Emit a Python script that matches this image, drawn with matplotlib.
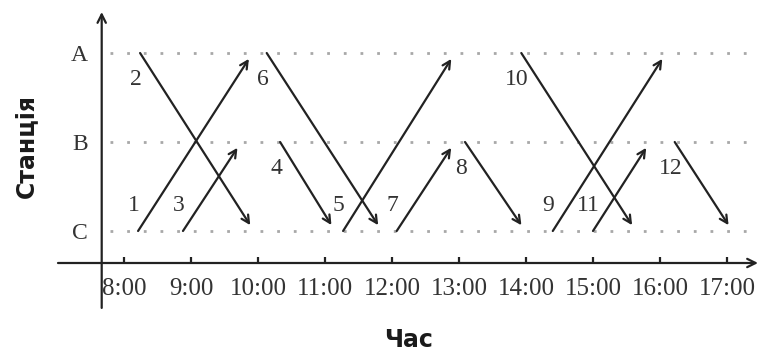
import matplotlib
matplotlib.use("Agg")
import matplotlib.pyplot as plt

# Stations on the vertical axis (bottom to top)
stations = ["C", "B", "A"]
station_level = {name: i for i, name in enumerate(stations)}

# Hour ticks on the time axis
hours = [8, 9, 10, 11, 12, 13, 14, 15, 16, 17]
hour_labels = ["8:00", "9:00", "10:00", "11:00", "12:00", "13:00",
               "14:00", "15:00", "16:00", "17:00"]

# Train schedule: number, origin, destination, departure and arrival (decimal hours)
train_ids = ["1", "2", "3", "4", "5", "6", "7", "8", "9", "10", "11", "12"]
origin = ["C", "A", "C", "B", "C", "A", "C", "B", "C", "A", "C", "B"]
destination = ["A", "C", "B", "C", "A", "C", "B", "C", "A", "C", "B", "C"]
depart = [8.21, 8.24, 8.88, 10.33, 11.27, 10.13, 12.07, 13.09, 14.40, 13.93, 15.00, 16.22]
arrive = [9.92, 9.94, 9.75, 11.15, 12.94, 11.85, 12.94, 13.99, 16.09, 15.64, 15.85, 17.08]

W, H = 760, 358
fig = plt.figure(figsize=(W / 100, H / 100), dpi=100)
ax = fig.add_axes([101.7 / W, (H - 263) / H, (758 - 101.7) / W, (263 - 12) / H])
ax.set_xlim(7.667, 17.463)
ax.set_ylim(-0.3596, 2.461)

for sp in ax.spines.values():
    sp.set_visible(False)

line_color = "#222222"
text_color = "#333333"
serif = "Liberation Serif"

# Dotted station levels
for s in stations:
    ax.axhline(station_level[s], xmin=0.013, xmax=0.99, color="#a8a8a8",
               lw=2.0, linestyle=(0, (1, 5)), zorder=1)

# Coordinate axes with arrowheads
ax.annotate("", xy=(1.0, 0.0), xytext=(-0.0666, 0.0),
            xycoords="axes fraction", textcoords="axes fraction",
            arrowprops=dict(arrowstyle="->,head_length=0.6,head_width=0.3",
                            color=line_color, lw=1.6, shrinkA=0, shrinkB=0),
            annotation_clip=False)
ax.annotate("", xy=(0.0, 1.0), xytext=(0.0, -0.179),
            xycoords="axes fraction", textcoords="axes fraction",
            arrowprops=dict(arrowstyle="->,head_length=0.6,head_width=0.3",
                            color=line_color, lw=1.6, shrinkA=0, shrinkB=0),
            annotation_clip=False)

# Ticks
ax.set_xticks(hours)
ax.set_xticklabels(hour_labels, fontfamily=serif, fontsize=18, color=text_color)
ax.tick_params(axis="x", direction="in", length=4, width=1.6, color=line_color, pad=11)
ax.set_yticks(range(len(stations)))
ax.set_yticklabels(stations, fontfamily=serif, fontsize=17, color=text_color)
ax.tick_params(axis="y", length=0, pad=10)

# Train paths
for tid, o, d, t0, t1 in zip(train_ids, origin, destination, depart, arrive):
    y0, y1 = station_level[o], station_level[d]
    ax.annotate("", xy=(t1, y1), xytext=(t0, y0),
                arrowprops=dict(arrowstyle="->,head_length=0.55,head_width=0.28",
                                color=line_color, lw=1.6, shrinkA=0, shrinkB=5),
                zorder=3)
    dy = 18 if y1 > y0 else -19
    ax.annotate(tid, xy=(t0, y0), xytext=(-3, dy), textcoords="offset points",
                ha="center", va="center", fontfamily=serif, fontsize=17,
                color=text_color, zorder=4)

# Axis titles
fig.text(26 / W, 1 - 146 / H, "Станція", rotation=90, ha="center", va="center",
         fontfamily="DejaVu Sans", fontweight="bold", fontsize=17, color="#1a1a1a")
fig.text(409 / W, 1 - 340 / H, "Час", ha="center", va="center",
         fontfamily="DejaVu Sans", fontweight="bold", fontsize=17, color="#1a1a1a")

fig.savefig("out.png", dpi=100, facecolor="white")
